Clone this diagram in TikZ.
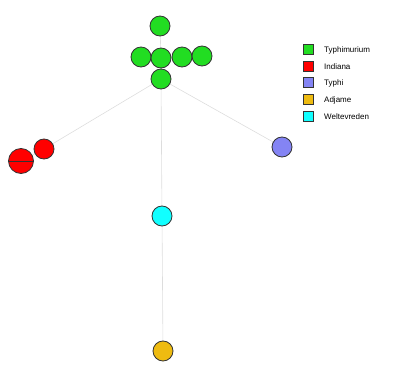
\documentclass[tikz,border=0pt]{standalone}
\usepackage{fontspec}
\setmainfont{Liberation Sans}
\definecolor{cgreen}{HTML}{22DD22}
\definecolor{cred}{HTML}{FF0000}
\definecolor{cblue}{HTML}{8484F4}
\definecolor{cyellow}{HTML}{EEBB11}
\definecolor{ccyan}{HTML}{11FFFF}
\definecolor{cedge}{HTML}{DDDDDD}
\begin{document}
\begin{tikzpicture}[x=1pt,y=-1pt,
  vtx/.style={circle,draw=black!80,line width=0.8pt,minimum size=20pt,inner sep=0pt},
  edg/.style={draw=cedge,line width=0.6pt},
  leg/.style={draw=black!80,line width=0.6pt,minimum size=10pt,inner sep=0pt},
  legtxt/.style={anchor=west,inner sep=0pt,font=\fontsize{8}{9}\selectfont}]
\useasboundingbox (0,0) rectangle (400,375);
% node coordinates
\coordinate (g1) at (160,26);
\coordinate (g2) at (141,57);
\coordinate (g3) at (161,58);
\coordinate (g4) at (182,57);
\coordinate (g5) at (202,56);
\coordinate (g6) at (161,79);
\coordinate (r1) at (44,149);
\coordinate (r2) at (21,161);
\coordinate (b1) at (282,147);
\coordinate (c1) at (162,216);
\coordinate (y1) at (163,351);
% edges
\draw[edg] (g6) -- (r1);
\draw[edg] (r1) -- (r2);
\draw[edg] (g6) -- (b1);
\draw[edg] (g6) -- (c1);
\draw[edg] (c1) -- (y1);
\draw[edg] (g1) -- (g3);
\draw[edg] (g3) -- (g6);
% vertices
\node[vtx,fill=cgreen] (n1) at (g1) {};
\node[vtx,fill=cgreen] (n2) at (g2) {};
\node[vtx,fill=cgreen] (n3) at (g3) {};
\node[vtx,fill=cgreen] (n4) at (g4) {};
\node[vtx,fill=cgreen] (n5) at (g5) {};
\node[vtx,fill=cgreen] (n6) at (g6) {};
\node[vtx,fill=cred,minimum size=25pt] (n8) at (r2) {};
\draw[black!80,line width=0.8pt] (n8.west) -- (n8.east);
\node[vtx,fill=cred] (n7) at (r1) {};
\node[vtx,fill=cblue] (n9) at (b1) {};
\node[vtx,fill=ccyan] (n10) at (c1) {};
\node[vtx,fill=cyellow] (n11) at (y1) {};
% legend
\node[leg,fill=cgreen] (l1) at (308,49) {};
\node[leg,fill=cred] (l2) at (308,66) {};
\node[leg,fill=cblue] (l3) at (308,82) {};
\node[leg,fill=cyellow] (l4) at (308,99) {};
\node[leg,fill=ccyan] (l5) at (308,116) {};
\node[legtxt] (t1) at (324,50) {Typhimurium};
\node[legtxt] (t2) at (324,67) {Indiana};
\node[legtxt] (t3) at (324,83) {Typhi};
\node[legtxt] (t4) at (324,100) {Adjame};
\node[legtxt] (t5) at (324,117) {Weltevreden};
\end{tikzpicture}
\end{document}
